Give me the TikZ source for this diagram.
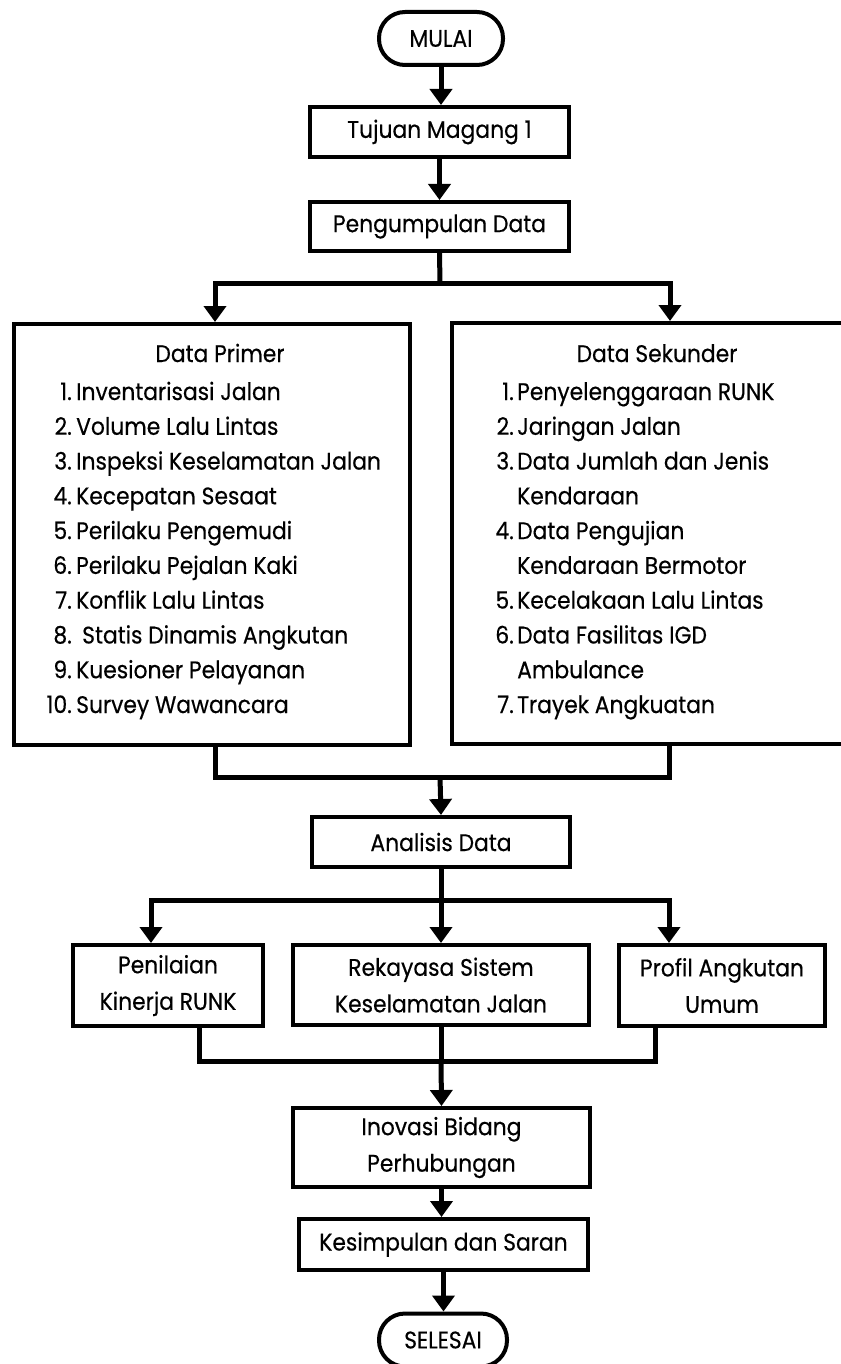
\documentclass[tikz,border=0pt]{standalone}
\usepackage{fontspec}
\setmainfont{Poppins}[FakeStretch=0.91,FakeBold=0.4]
\usetikzlibrary{arrows.meta}
\usetikzlibrary{positioning}
\tikzstyle{box}=[draw,line width=4pt,inner sep=0pt,align=center]
\tikzstyle{terminal}=[box,rounded corners=26pt]
\tikzstyle{flow}=[line width=5pt,-{Triangle[width=22pt,length=16pt]}]
\tikzstyle{link}=[line width=5pt]
\tikzstyle{itemtext}=[inner sep=0pt,anchor=base west]
\tikzstyle{itemnum}=[inner sep=0pt,anchor=base east]
\newcommand{\flowfont}{\fontsize{24}{36.5}\selectfont}

\begin{document}
\begin{tikzpicture}[x=1pt,y=-1pt,font=\flowfont]
  \useasboundingbox (0,0) rectangle (840,1364);
  % start and the first two steps
  \node[terminal,minimum width=124pt,minimum height=53pt] (mulai) at (441,38.5) {MULAI};
  \node[box,minimum width=259pt,minimum height=50pt] (tujuan) at (439.5,132) {Tujuan Magang 1};
  \node[box,minimum width=259pt,minimum height=49pt] (kumpul) at (439.5,226.5) {Pengumpulan Data};
  % the two data boxes
  \node[box,minimum width=396pt,minimum height=421pt] (primer) at (212,534.5) {};
  \node[box,minimum width=408pt,minimum height=421pt] (sekunder) at (656,533.5) {};
  \node[anchor=base,inner sep=0pt] (primertitle) at (220,362) {Data Primer};
  \node[anchor=base,inner sep=0pt] (sekundertitle) at (657,362) {Data Sekunder};
  \foreach \n/\t [count=\i] in {1./Inventarisasi Jalan,2./Volume Lalu Lintas,3./Inspeksi Keselamatan Jalan,4./Kecepatan Sesaat,5./Perilaku Pengemudi,6./Perilaku Pejalan Kaki,7./Konflik Lalu Lintas,8./\hspace{6pt}Statis Dinamis Angkutan,9./Kuesioner Pelayanan,10./Survey Wawancara} {
    \node[itemnum] (pnum\i) at (72,{400+(\i-1)*34.78}) {\n};
    \node[itemtext] (ptext\i) at (76,{400+(\i-1)*34.78}) {\t};
  }
  \foreach \n/\t [count=\i] in {1./Penyelenggaraan RUNK,2./Jaringan Jalan,3./Data Jumlah dan Jenis,/Kendaraan,4./Data Pengujian,/Kendaraan Bermotor,5./Kecelakaan Lalu Lintas,6./Data Fasilitas IGD,/Ambulance,7./Trayek Angkuatan} {
    \node[itemnum] (snum\i) at (514,{400+(\i-1)*34.78}) {\n};
    \node[itemtext] (stext\i) at (517,{400+(\i-1)*34.78}) {\t};
  }
  % analysis and its three outputs
  \node[box,minimum width=258pt,minimum height=50pt] (analisis) at (441,842) {Analisis Data};
  \node[box,minimum width=190pt,minimum height=81pt] (penilaian) at (168,985.5) {Penilaian\\Kinerja RUNK};
  \node[box,minimum width=296pt,minimum height=80pt] (rekayasa) at (441,985) {Rekayasa Sistem\\Keselamatan Jalan};
  \node[box,minimum width=206pt,minimum height=81pt] (profil) at (722,985.5) {Profil Angkutan\\Umum};
  % closing steps
  \node[box,minimum width=297pt,minimum height=79pt] (inovasi) at (441.5,1147.5) {Inovasi Bidang\\Perhubungan};
  \node[box,minimum width=289pt,minimum height=51pt] (simpul) at (443.5,1244.5) {Kesimpulan dan Saran};
  \node[terminal,minimum width=128pt,minimum height=53pt] (selesai) at (443,1340) {SELESAI};

  \coordinate (split1) at (440,283);
  \coordinate (join1) at (440,777);
  \coordinate (split2) at (441,900);
  \coordinate (join2) at (441,1061);
  \draw[flow] (mulai.south) -- (mulai.south |- tujuan.north);
  \draw[flow] (tujuan) -- (kumpul);
  \draw[link] (kumpul.south) -- (split1);
  \draw[flow] (split1) -| ([xshift=3pt]primer.north);
  \draw[flow] (split1) -| ([xshift=14pt]sekunder.north);
  \draw[link] ([xshift=3pt]primer.south) |- (join1);
  \draw[link] ([xshift=13pt]sekunder.south) |- (join1);
  \draw[flow] (join1) -- (analisis.north);
  \draw[link] (analisis.south) -- (split2);
  \draw[flow] (split2) -| ([xshift=-17pt]penilaian.north);
  \draw[flow] (split2) -- (rekayasa.north);
  \draw[flow] (split2) -| ([xshift=-53pt]profil.north);
  \draw[link] ([xshift=31pt]penilaian.south) |- (join2);
  \draw[link] ([xshift=-67pt]profil.south) |- (join2);
  \draw[link] (rekayasa.south) -- (join2);
  \draw[flow] (join2) -- (inovasi.north);
  \draw[flow] (inovasi.south) -- (inovasi.south |- simpul.north);
  \draw[flow] (simpul) -- (simpul.south |- selesai.north);
\end{tikzpicture}
\end{document}
